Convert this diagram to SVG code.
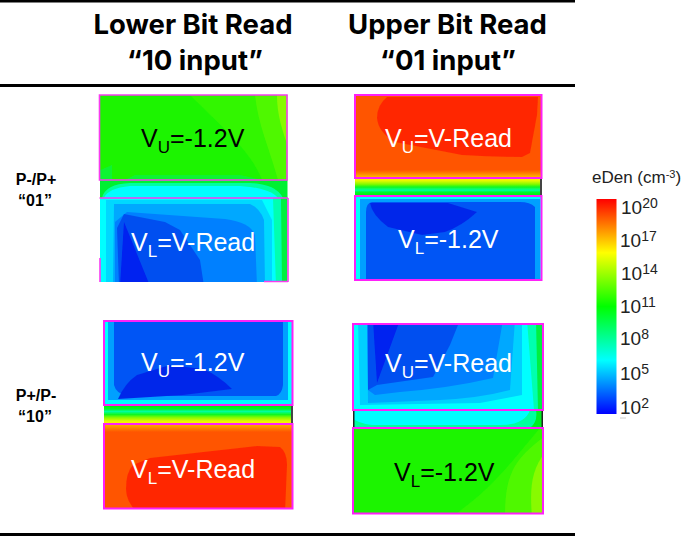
<svg xmlns="http://www.w3.org/2000/svg" width="685" height="536" viewBox="0 0 685 536">
<style>
text{font-family:"Liberation Sans",Arial,sans-serif}
.h{font-family:Inter,"Liberation Sans",sans-serif;font-weight:700;font-size:27.500px;fill:#000;text-anchor:middle}
.s{font-weight:700;font-size:16px;fill:#000;text-anchor:middle}
.v{font-size:25px}
.w{fill:#fff}.k{fill:#000}
.b{fill:none;stroke:#f83cf0;stroke-width:1.6}
.m{fill:none;stroke:#ff20f8;stroke-width:2}
.c{font-size:19px;fill:#222}
.f{filter:url(#soft)}
</style>
<defs>
<filter id="soft" x="-5%" y="-5%" width="110%" height="110%"><feGaussianBlur stdDeviation="0.7"/></filter>
<clipPath id="c1"><rect x="100" y="95" width="187.500" height="187"/></clipPath>
<clipPath id="c2"><rect x="355" y="95" width="187" height="185"/></clipPath>
<clipPath id="c3"><rect x="104" y="321" width="189" height="188"/></clipPath>
<clipPath id="c4"><rect x="353" y="324" width="190" height="190"/></clipPath>
<linearGradient id="scale" x1="0" y1="0" x2="0" y2="1">
<stop offset="0" stop-color="#ff0000"/><stop offset=".25" stop-color="#ffff00"/><stop offset=".5" stop-color="#00ff00"/><stop offset=".75" stop-color="#00ffff"/><stop offset="1" stop-color="#0000ff"/>
</linearGradient>
<linearGradient id="midB" x1="0" y1="0" x2="0" y2="1">
<stop offset="0" stop-color="#fff000"/><stop offset=".15" stop-color="#e8f800"/><stop offset=".35" stop-color="#80fa00"/><stop offset=".5" stop-color="#10f820"/><stop offset=".68" stop-color="#00ffa0"/><stop offset=".78" stop-color="#00f830"/><stop offset="1" stop-color="#00f000"/>
</linearGradient>
<linearGradient id="midC" x1="0" y1="0" x2="0" y2="1">
<stop offset="0" stop-color="#00f000"/><stop offset=".22" stop-color="#00f830"/><stop offset=".34" stop-color="#00ffa0"/><stop offset=".5" stop-color="#10f820"/><stop offset=".65" stop-color="#80fa00"/><stop offset=".85" stop-color="#e8f800"/><stop offset="1" stop-color="#fff000"/>
</linearGradient>
<linearGradient id="edgeT" x1="0" y1="0" x2="0" y2="1">
<stop offset="0" stop-color="#ffb000"/><stop offset="1" stop-color="#ff5500"/>
</linearGradient>
<linearGradient id="edgeB" x1="0" y1="0" x2="0" y2="1">
<stop offset="0" stop-color="#ff5500"/><stop offset="1" stop-color="#ffc000"/>
</linearGradient>
</defs>

<g id="rules">
<rect x="0" y="0" width="575" height="2.500" fill="#000"/>
<rect x="0" y="84" width="575" height="3" fill="#000"/>
<rect x="0" y="533" width="575" height="3" fill="#000"/>
</g>

<g id="headers">
<text class="h" x="193" y="34">Lower Bit Read</text>
<text class="h" x="195" y="70">“10 input”</text>
<text class="h" x="447.500" y="34">Upper Bit Read</text>
<text class="h" x="448" y="70">“01 input”</text>
</g>

<g id="row-labels">
<text class="s" x="36" y="185">P-/P+</text>
<text class="s" x="35" y="206">“01”</text>
<text class="s" x="36" y="401">P+/P-</text>
<text class="s" x="35" y="422">“10”</text>
</g>

<g id="panel-top-left">
<rect x="100" y="95" width="187" height="187" fill="#00ffff"/>
<g clip-path="url(#c1)"><g class="f">
<rect x="96" y="91" width="195" height="89" fill="#1cf400"/>
<path d="M190 91H291V180H262C250 150 225 130 190 95Z" fill="#30f600"/>
<path d="M255 91H291V180H278C270 150 258 125 255 95Z" fill="#50f800"/>
<path d="M277 91H291V155C282 130 277 115 277 95Z" fill="#88fa00"/>
<path d="M96 180V172L112 165V180ZM125 180L135 175H240L262 180Z" fill="#10f430"/>
<rect x="96" y="180" width="195" height="18" fill="#00ffff"/>
<path d="M96 180H291V198H278Q270 188 240 186H130Q108 188 104 198H96Z" fill="#00ffa0"/>
<path d="M96 180H291V198H283Q276 184 250 183H130Q105 184 102 198H96Z" fill="#00f030"/>
<rect x="96" y="198" width="195" height="88" fill="#00ffff"/>
<path d="M273 198H291V286H276Z" fill="#00ffb0"/>
<path d="M281 198H291V286H282Z" fill="#00f040"/>
<path d="M106 286V200H262L272 220V286Z" fill="#00d8ff"/>
<path d="M113 286L114 204H250Q260 208 264 220L265 286Z" fill="#00a8ff"/>
<path d="M115 286V222L127 212L225 219Q250 222 255 235L257 286Z" fill="#0080ff"/>
<path d="M119 286L117 228L124 214L165 222L180 230L200 260L204 286Z" fill="#0050f0"/>
<path d="M120 286L124 222L150 286Z" fill="#0020f0"/>
</g></g>
<path class="b" d="M99.500 95H287V180H99.500Z"/>
<path class="b" d="M99.500 198H288M100 258V282M264 281.500H288M288 198V282"/>
<text class="v k" x="141" y="147">V<tspan font-size="17" dy="6">U</tspan><tspan dy="-6">=-1.2V</tspan></text>
<text class="v w" x="131" y="251">V<tspan font-size="17" dy="6">L</tspan><tspan dy="-6">=V-Read</tspan></text>
</g>

<g id="panel-top-right">
<rect x="355" y="95" width="187" height="185" fill="#0055f5"/>
<g clip-path="url(#c2)"><g class="f">
<rect x="351" y="91" width="195" height="79" fill="#ff5500"/>
<rect x="351" y="170" width="195" height="8" fill="url(#edgeB)"/>
<path d="M387 97H538L537 115L530 153L522 157Q490 157 462 155L395 142Q378 132 377 118Q377 105 387 97Z" fill="#ff2800"/>
<rect x="351" y="178" width="195" height="18" fill="url(#midB)"/>
<rect x="351" y="196" width="195" height="88" fill="#0055f5"/>
<path d="M351 196H546V284H540V200H360V284H351Z" fill="#00ffff"/>
<path d="M360 284V199H540V284H535V207Q530 202 520 202H372Q366 203 366 212V284Z" fill="#00a0ff"/>
<path d="M370 203H448L477 212Q462 226 445 232L422 235L388 227Q372 215 370 203Z" fill="#0028ea"/>
</g></g>
<rect x="540" y="178" width="2" height="18" fill="#444"/>
<path class="m" d="M355 95H541.500V178H355ZM355 196H541.500V280H355Z"/>
<text class="v w" x="385" y="147">V<tspan font-size="17" dy="6">U</tspan><tspan dy="-6">=V-Read</tspan></text>
<text class="v w" x="398" y="248">V<tspan font-size="17" dy="6">L</tspan><tspan dy="-6">=-1.2V</tspan></text>
</g>

<g id="panel-bottom-left">
<rect x="104" y="321" width="189" height="188" fill="#0055f5"/>
<g clip-path="url(#c3)"><g class="f">
<rect x="100" y="317" width="197" height="88" fill="#0055f5"/>
<path d="M100 317H109V399H287V317H297V405H100Z" fill="#00ffff"/>
<path d="M108 317H114V385Q116 394 128 396H276Q282 394 283 385V317H288V400H108Z" fill="#00a0ff"/>
<path d="M118 399Q125 383 137 375L170 365L203 369Q218 375 232 389L183 395Z" fill="#0028ea"/>
<rect x="100" y="405" width="197" height="19" fill="url(#midC)"/>
<rect x="100" y="424" width="197" height="89" fill="#ff5500"/>
<rect x="100" y="424" width="197" height="8" fill="url(#edgeT)"/>
<path d="M138 513Q126 502 126 489Q126 472 133 465L150 458L257 446L280 447Q287 452 287 465L285 513Z" fill="#ff2800"/>
</g></g>
<rect x="291" y="405" width="2" height="19" fill="#444"/>
<path class="m" d="M104 321H292.500V405H104ZM104 424H292.500V508.500H104Z"/>
<text class="v w" x="141" y="371">V<tspan font-size="17" dy="6">U</tspan><tspan dy="-6">=-1.2V</tspan></text>
<text class="v w" x="131" y="478">V<tspan font-size="17" dy="6">L</tspan><tspan dy="-6">=V-Read</tspan></text>
</g>

<g id="panel-bottom-right">
<rect x="353" y="324" width="190" height="190" fill="#00ffff"/>
<g clip-path="url(#c4)"><g class="f">
<path d="M527 320H547V410H534Z" fill="#00ffb0"/>
<path d="M536 320H547V410H538Z" fill="#00f040"/>
<path d="M358 320H522L522 395L480 403L360 405Z" fill="#00d0ff"/>
<path d="M367 320H515L510 390Q480 398 440 400L368 403Z" fill="#00a8ff"/>
<path d="M367 320H503L493 378Q450 388 400 392L375 395L368 390Z" fill="#0080ff"/>
<path d="M368 320H460L450 345L433 377L377 385L368 390Z" fill="#0050f0"/>
<path d="M373 320H400L377 383Z" fill="#0020f0"/>
<rect x="349" y="410" width="198" height="18" fill="#00ffff"/>
<path d="M349 428V416Q358 424 372 425H500Q525 425 530 410H547V428Z" fill="#00ffa0"/>
<path d="M530 428Q538 422 536 410H547V428Z" fill="#00f020"/>
<rect x="349" y="428" width="198" height="90" fill="#1cf400"/>
<path d="M450 518C490 490 505 470 540 428H547V518Z" fill="#30f600"/>
<path d="M505 518C505 480 510 460 547 435V518Z" fill="#50f800"/>
<path d="M532 518C530 490 530 470 547 450V518Z" fill="#88fa00"/>
</g></g>
<rect x="353" y="410" width="1.500" height="18" fill="#222"/><rect x="541.500" y="410" width="1.500" height="18" fill="#222"/>
<path class="m" d="M353 324H543V410H353ZM353 428H543V513.500H353Z"/>
<text class="v w" x="385" y="372">V<tspan font-size="17" dy="6">U</tspan><tspan dy="-6">=V-Read</tspan></text>
<text class="v k" x="394" y="481">V<tspan font-size="17" dy="6">L</tspan><tspan dy="-6">=-1.2V</tspan></text>
</g>

<g id="colorbar">
<text x="592" y="183" style="font-size:17px;fill:#222">eDen (cm<tspan font-size="11" dy="-5">-3</tspan><tspan dy="5">)</tspan></text>
<rect x="596.500" y="199" width="20" height="215" fill="url(#scale)"/>
<text class="c" x="621" y="214">10<tspan font-size="14" dy="-6">20</tspan></text>
<text class="c" x="620" y="247">10<tspan font-size="14" dy="-6">17</tspan></text>
<text class="c" x="621" y="280">10<tspan font-size="14" dy="-6">14</tspan></text>
<text class="c" x="620" y="313">10<tspan font-size="14" dy="-6">11</tspan></text>
<text class="c" x="620" y="345">10<tspan font-size="14" dy="-6">8</tspan></text>
<text class="c" x="620" y="380">10<tspan font-size="14" dy="-6">5</tspan></text>
<text class="c" x="620" y="414">10<tspan font-size="14" dy="-6">2</tspan></text>
<line x1="620" y1="418" x2="626" y2="418" stroke="#ccc" stroke-width="1"/>
</g>
</svg>
